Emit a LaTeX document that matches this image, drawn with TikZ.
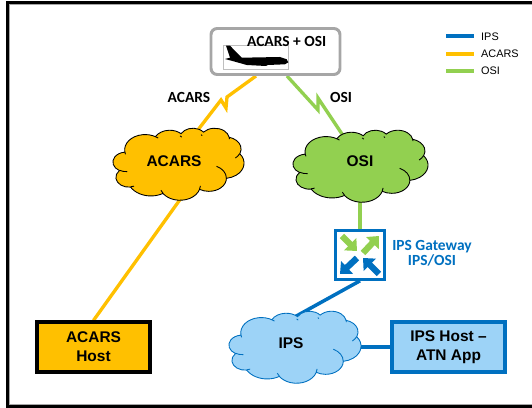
\documentclass[tikz,border=0pt]{standalone}
\usepackage{fontspec}
\setmainfont{Liberation Sans}
\newfontfamily\calibrifont{Carlito}
\usetikzlibrary{arrows.meta}
\usetikzlibrary{backgrounds}
\usetikzlibrary{calc}

\definecolor{acarsCol}{HTML}{FFC000}
\definecolor{osiCol}{HTML}{92D050}
\definecolor{ipsCol}{HTML}{0070C0}
\definecolor{ipsFill}{HTML}{9DD3F7}
\definecolor{planeCol}{HTML}{A6A6A6}

\tikzset{
	declare function={cloudAng(\w,\h,\a)=atan2(\w*sin(\a),\h*cos(\a));},
	acarsLine/.style={line width=1.9pt, acarsCol},
	osiLine/.style={line width=1.9pt, osiCol},
	ipsLine/.style={line width=2pt, ipsCol},
	hostBox/.style={draw, line width=1.8pt, minimum width=113*0.02cm, minimum height=50*0.02cm,
		align=center, font=\bfseries\fontsize{8.8}{10.8}\selectfont},
	cloudText/.style={font=\bfseries\fontsize{8.8}{10.8}\selectfont},
	slideText/.style={font=\calibrifont\bfseries\fontsize{8.8}{8.8}\selectfont, align=center},
	legendText/.style={anchor=west, font=\fontsize{6.2}{7}\selectfont},
	gatewayArrow/.style={line width=3.6pt, -{Triangle[length=5.5pt, width=9.6pt]}},
}

% cloud outline: left, top, width, height, colour options
\newcommand{\cloudShape}[5]{
	\begin{scope}[shift={(#1,#2)}, x=1cm, y=1cm, xscale=#3*0.02/4.32, yscale=-#4*0.02/4.32]
		\filldraw[#5, line width=0.5pt] (0.39,1.437)
			\foreach \wR/\hR/\st/\sw in {
				.6753/.9190/-190.49/123.78, .5333/.7267/-144.10/89.95, .4365/.5945/-145.81/99.73,
				.4857/.6595/-130.99/117.24, .5333/.7273/-78.71/109.03, .6775/.9220/-46.27/130.27,
				.5785/.7867/0.625/114.03, .6752/.9215/22.45/115.17, .7720/1.0543/66.24/75.71,
				.4360/.5918/-274.94/146.74, .4345/.5945/-246.83/152.52} {
				arc[start angle={cloudAng(\wR,\hR,\st)},
					delta angle={mod(cloudAng(\wR,\hR,\st+\sw)-cloudAng(\wR,\hR,\st)+720,360)},
					x radius=\wR, y radius=\hR]
			} -- cycle;
		% inner curls
		\foreach \cx/\cy/\wR/\hR/\st/\sw in {
			.4693/2.6177/.4345/.5945/86.74/26.43, .6928/3.4899/.4360/.5918/73.61/11.45,
			1.6478/3.9090/.6752/.9215/137.62/14.08, 2.8827/3.4751/.6752/.9215/6.45/16.00,
			3.4129/2.2954/.5785/.7867/-70.29/70.92, 4.1798/1.5354/.5333/.7273/30.32/27.75,
			3.8324/.5426/.4857/.6595/-13.74/14.86, 2.9078/.3952/.4365/.5945/-46.08/8.00,
			2.2141/.4720/.5333/.7267/-54.15/8.00, 1.4000/.5192/.6753/.9190/-66.71/8.00,
			.4127/1.5789/.6753/.9190/157.70/11.81} {
			\draw[#5, line width=0.5pt, fill=none] (\cx,\cy)
				arc[start angle={cloudAng(\wR,\hR,\st)},
					delta angle={mod(cloudAng(\wR,\hR,\st+\sw)-cloudAng(\wR,\hR,\st)+720,360)},
					x radius=\wR, y radius=\hR];
		}
	\end{scope}
}

\begin{document}
\begin{tikzpicture}[x=0.02cm, y=-0.02cm]

	\useasboundingbox (0,0) rectangle (532,408);

	% outer frame
	\draw[planeCol, line width=0.3pt] (532,4.5) -- (9.7,4.5) -- (9.7,404) -- (532,404);
	\draw[line width=1.7pt] (532,2.5) -- (7.5,2.5) -- (7.5,406.5) -- (532,406.5);

	% aircraft box
	\node[draw=planeCol, line width=1.7pt, rounded corners=3.5pt, minimum width=129*0.02cm,
		minimum height=46*0.02cm] (planeBox) at (275.5,51.5) {};
	\draw[black!25!white, line width=0.3pt] (223,45) rectangle (288,69);
	\fill (226,45.7) -- (230,45.7) -- (241.7,57.7) -- (280,57) -- (286.7,59.3) -- (288.3,62.3)
		-- (285,64.3) -- (268,65) -- (266,66) -- (260,65.7) -- (246.7,65) -- (235,61.7)
		-- (225,59) -- (230,57.7) -- cycle;
	\node[slideText] (planeText) at (286.7,41.5) {ACARS + OSI};

	% clouds
	\cloudShape{113}{128}{131}{72}{draw=black, fill=acarsCol}
	\cloudShape{293}{130}{135}{72}{draw=black, fill=osiCol}
	\cloudShape{229}{311}{132}{72}{draw=ipsCol, fill=ipsFill}
	\node[cloudText] (acarsCloud) at (174,161) {ACARS};
	\node[cloudText] (osiCloud) at (360,161) {OSI};
	\node[cloudText] (ipsCloud) at (291,343) {IPS};

	% hosts
	\node[hostBox, fill=acarsCol] (acarsHost) at (93.5,347) {ACARS\\Host};
	\node[hostBox, draw=ipsCol, fill=ipsFill] (ipsHost) at (448.5,347) {IPS Host --\\ATN App};

	% gateway icon
	\node[draw=ipsCol, fill=white, line width=1.5pt, minimum size=49*0.02cm] (gateway) at (360,255) {};
	\draw[gatewayArrow, osiCol] (342,236) -- (357,251);
	\draw[gatewayArrow, osiCol] (363,253) -- (379,236);
	\draw[gatewayArrow, ipsCol] (357,258) -- (340,274);
	\draw[gatewayArrow, ipsCol] (379,274) -- (363,258);

	% labels
	\node[slideText] (acarsLabel) at (189,97) {ACARS};
	\node[slideText] (osiLabel) at (341,97) {OSI};
	\node[slideText, ipsCol] (gatewayLabel) at (432,253.5) {IPS Gateway\\IPS/OSI};

	% legend
	\node[legendText] (legendIps) at (475,37) {IPS};
	\node[legendText] (legendAcars) at (475,54) {ACARS};
	\node[legendText] (legendOsi) at (475,71) {OSI};
	\draw[ipsLine] ($(legendIps.west)+(-29,-1)$) -- ($(legendIps.west)+(-1,-1)$);
	\draw[acarsLine] ($(legendAcars.west)+(-29,0)$) -- ($(legendAcars.west)+(-1,0)$);
	\draw[osiLine] ($(legendOsi.west)+(-29,0)$) -- ($(legendOsi.west)+(-1,0)$);

	% bend points of the links
	\coordinate (acarsZagA) at (227,97);
	\coordinate (acarsZagB) at (226,108);
	\coordinate (acarsZagC) at (221,100);
	\coordinate (osiZagA) at (318,110);
	\coordinate (osiZagB) at (318,98);
	\coordinate (acarsLow) at (184,194);
	\coordinate (ipsTop) at (291,319);

	% draw the links below everything else
	\begin{scope}[on background layer]
		\draw[acarsLine] (planeBox.south -| 256,0) -- (acarsZagA) -- (acarsZagB) -- (acarsZagC) -- (acarsCloud);
		\draw[osiLine] (planeBox.south -| 287,0) -- (osiZagA) -- (osiZagB) -- (osiCloud);
		\draw[acarsLine] (acarsLow) -- (acarsHost.north);
		\draw[osiLine] (osiCloud) -- (gateway);
		\draw[ipsLine] (gateway.south) -- (ipsTop);
		\draw[ipsLine] (ipsHost.west -| 345,0) -- (ipsHost.west);
	\end{scope}

\end{tikzpicture}
\end{document}
